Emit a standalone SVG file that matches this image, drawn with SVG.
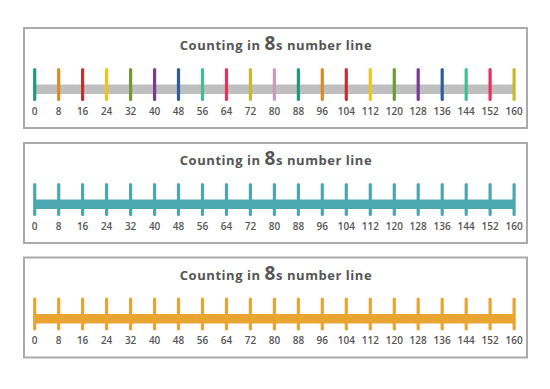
<svg xmlns="http://www.w3.org/2000/svg" width="550" height="389" viewBox="0 0 550 389">
<style>
.frame{fill:#fff;stroke:#aaaaaa;stroke-width:2}
.title{font-family:"Open Sans","Liberation Sans",sans-serif;font-weight:bold;font-size:13px;fill:#555;text-anchor:middle;letter-spacing:0.55px}
.big{font-size:19px}
.lbl{font-family:"Open Sans","Liberation Sans",sans-serif;font-weight:600;font-size:10px;fill:#555;text-anchor:middle}
.tk{stroke-width:3.2;stroke-linecap:round}
</style>
<defs>
<g id="labels">
<text class="lbl" x="34.7" y="114.5">0</text><text class="lbl" x="58.7" y="114.5">8</text><text class="lbl" x="82.6" y="114.5">16</text><text class="lbl" x="106.6" y="114.5">24</text><text class="lbl" x="130.6" y="114.5">32</text><text class="lbl" x="154.6" y="114.5">40</text><text class="lbl" x="178.5" y="114.5">48</text><text class="lbl" x="202.5" y="114.5">56</text><text class="lbl" x="226.5" y="114.5">64</text><text class="lbl" x="250.4" y="114.5">72</text><text class="lbl" x="274.4" y="114.5">80</text><text class="lbl" x="298.4" y="114.5">88</text><text class="lbl" x="322.3" y="114.5">96</text><text class="lbl" x="346.3" y="114.5">104</text><text class="lbl" x="370.3" y="114.5">112</text><text class="lbl" x="394.3" y="114.5">120</text><text class="lbl" x="418.2" y="114.5">128</text><text class="lbl" x="442.2" y="114.5">136</text><text class="lbl" x="466.2" y="114.5">144</text><text class="lbl" x="490.1" y="114.5">152</text><text class="lbl" x="514.1" y="114.5">160</text>
</g>
<g id="title"><text class="title" x="276" y="50">Counting in <tspan class="big">8</tspan>s number line</text></g>
<path id="ticks" d="M34.7 69.5V99.5M58.7 69.5V99.5M82.6 69.5V99.5M106.6 69.5V99.5M130.6 69.5V99.5M154.6 69.5V99.5M178.5 69.5V99.5M202.5 69.5V99.5M226.5 69.5V99.5M250.4 69.5V99.5M274.4 69.5V99.5M298.4 69.5V99.5M322.3 69.5V99.5M346.3 69.5V99.5M370.3 69.5V99.5M394.3 69.5V99.5M418.2 69.5V99.5M442.2 69.5V99.5M466.2 69.5V99.5M490.1 69.5V99.5M514.1 69.5V99.5"/>
</defs>
<g id="panel1">
<rect class="frame" x="24" y="28" width="503" height="100"/>
<use href="#title"/>
<rect x="34.7" y="84.5" width="479.4" height="9.5" fill="#bfbfbf"/>
<g class="tk">
<line x1="34.7" y1="69.5" x2="34.7" y2="99.5" stroke="#1e9a82"/>
<line x1="58.7" y1="69.5" x2="58.7" y2="99.5" stroke="#d98b22"/>
<line x1="82.6" y1="69.5" x2="82.6" y2="99.5" stroke="#c4302b"/>
<line x1="106.6" y1="69.5" x2="106.6" y2="99.5" stroke="#f2c418"/>
<line x1="130.6" y1="69.5" x2="130.6" y2="99.5" stroke="#6f9a33"/>
<line x1="154.6" y1="69.5" x2="154.6" y2="99.5" stroke="#7b3a96"/>
<line x1="178.5" y1="69.5" x2="178.5" y2="99.5" stroke="#2e5d9e"/>
<line x1="202.5" y1="69.5" x2="202.5" y2="99.5" stroke="#3dbf94"/>
<line x1="226.5" y1="69.5" x2="226.5" y2="99.5" stroke="#e8305a"/>
<line x1="250.4" y1="69.5" x2="250.4" y2="99.5" stroke="#c8b92a"/>
<line x1="274.4" y1="69.5" x2="274.4" y2="99.5" stroke="#c99ac0"/>
<line x1="298.4" y1="69.5" x2="298.4" y2="99.5" stroke="#1e9a82"/>
<line x1="322.3" y1="69.5" x2="322.3" y2="99.5" stroke="#d98b22"/>
<line x1="346.3" y1="69.5" x2="346.3" y2="99.5" stroke="#c4302b"/>
<line x1="370.3" y1="69.5" x2="370.3" y2="99.5" stroke="#f2c418"/>
<line x1="394.3" y1="69.5" x2="394.3" y2="99.5" stroke="#6f9a33"/>
<line x1="418.2" y1="69.5" x2="418.2" y2="99.5" stroke="#7b3a96"/>
<line x1="442.2" y1="69.5" x2="442.2" y2="99.5" stroke="#2e5d9e"/>
<line x1="466.2" y1="69.5" x2="466.2" y2="99.5" stroke="#3dbf94"/>
<line x1="490.1" y1="69.5" x2="490.1" y2="99.5" stroke="#e8305a"/>
<line x1="514.1" y1="69.5" x2="514.1" y2="99.5" stroke="#c8b92a"/>
</g>
<use href="#labels"/>
</g>
<g id="panel2" transform="translate(0,115)">
<rect class="frame" x="24" y="28" width="503" height="100"/>
<use href="#title"/>
<rect x="34.7" y="84.5" width="479.4" height="9.5" fill="#4ca8b0"/>
<use href="#ticks" class="tk" stroke="#4ca8b0"/>
<use href="#labels"/>
</g>
<g id="panel3" transform="translate(0,229.5)">
<rect class="frame" x="24" y="28" width="503" height="100"/>
<use href="#title"/>
<rect x="34.7" y="84.5" width="479.4" height="9.5" fill="#e9a432"/>
<use href="#ticks" class="tk" stroke="#e9a432"/>
<use href="#labels"/>
</g>
</svg>
